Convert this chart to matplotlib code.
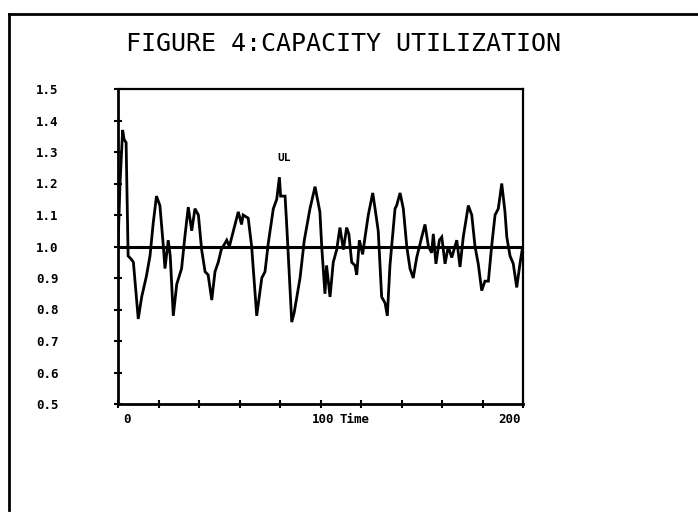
import numpy as np
import matplotlib
matplotlib.use("Agg")
import matplotlib.pyplot as plt
from matplotlib.lines import Line2D
from matplotlib import transforms

# capacity utilization (time, value)
TIME = [
    0, 1, 2.3, 3, 4, 5, 6.5, 7.6, 10, 11.7, 14, 15.8, 17.4, 19, 20.7,
    22.4, 23.2, 24.8, 25.8, 27.3, 29, 31.4, 33, 34.7, 36.4, 38, 39.7,
    41.3, 43, 44.5, 46.3, 47.9, 49.5, 51, 53.7, 55, 57, 59.4, 61, 61.8,
    64.3, 66, 68.5, 71, 72.6, 74.2, 76.7, 78.4, 79.7, 80.3, 82.5, 83.3,
    85.8, 87, 89.9, 92, 94.8, 97.3, 98.5, 99.7, 100.6, 102.2, 103, 104.7,
    106.3, 108, 109.6, 111.3, 112.9, 114, 115.4, 117, 117.9, 119.2, 120.8,
    122, 123.6, 125.8, 127.4, 128.5, 130.2, 131.9, 133, 134.3, 136.8,
    137.6, 139.3, 140.9, 142.6, 144.2, 145.8, 147.5, 150, 151.6, 153.3,
    154.9, 155.7, 157, 158.7, 159.9, 161.5, 163.1, 164.8, 167.3, 168.9,
    170.5, 173, 174.7, 176.3, 177.9, 179.6, 181.2, 182.9, 184.5, 186.2,
    187.8, 189.5, 191.1, 192, 193.6, 195.2, 196.9, 198.5, 199.6,
]
UTIL = [
    1.00, 1.20, 1.37, 1.34, 1.33, 0.97, 0.96, 0.95, 0.77, 0.84, 0.905, 0.97,
    1.075, 1.16, 1.13, 1.00, 0.93, 1.02, 0.97, 0.78, 0.88, 0.93, 1.03, 1.125,
    1.05, 1.12, 1.10, 0.99, 0.92, 0.91, 0.83, 0.92, 0.95, 0.99, 1.02, 1.00,
    1.05, 1.11, 1.07, 1.10, 1.09, 1.00, 0.78, 0.90, 0.92, 1.01, 1.12, 1.15,
    1.22, 1.16, 1.16, 1.07, 0.76, 0.79, 0.90, 1.02, 1.12, 1.19, 1.15, 1.11,
    1.00, 0.85, 0.94, 0.84, 0.95, 0.99, 1.06, 0.99, 1.06, 1.04, 0.95, 0.94,
    0.91, 1.02, 0.975, 1.03, 1.10, 1.17, 1.10, 1.05, 0.84, 0.82, 0.78, 0.94,
    1.12, 1.13, 1.17, 1.12, 1.00, 0.93, 0.90, 0.965, 1.03, 1.07, 1.00, 0.98,
    1.04, 0.945, 1.02, 1.03, 0.945, 1.00, 0.965, 1.02, 0.935, 1.03, 1.13,
    1.10, 1.00, 0.945, 0.86, 0.89, 0.89, 1.00, 1.10, 1.12, 1.20, 1.11, 1.03,
    0.97, 0.945, 0.87, 0.945, 0.99,
]
BASELINE = 1.0

Y_TICKS = [0.5, 0.6, 0.7, 0.8, 0.9, 1.0, 1.1, 1.2, 1.3, 1.4, 1.5]
X_TICKS = list(range(0, 201, 20))
X_LABELS = [(0, "0", 4.5), (100, "100", 101.5), (200, "200", 193.5)]

TITLE = "FIGURE 4:CAPACITY UTILIZATION"

fig = plt.figure(figsize=(6.98, 5.17), dpi=100)
ax = fig.add_axes([118 / 698, 1 - 404 / 517, 405 / 698, 315 / 517])

ax.plot(TIME, UTIL, color="black", lw=2.0, solid_joinstyle="miter")
ax.axhline(BASELINE, color="black", lw=2.2)
ax.text(82, 1.28, "UL", fontsize=8, fontweight="bold",
        family="DejaVu Sans Mono", ha="center", va="center")

ax.set_xlim(0, 200)
ax.set_ylim(0.5, 1.5)
ax.set_yticks(Y_TICKS)
ax.set_yticklabels([f"{v:.1f}" for v in Y_TICKS],
                   fontweight="bold", family="DejaVu Sans Mono", fontsize=9)
ax.tick_params(axis="y", direction="inout", length=6, width=1.5,
               pad=40)
ax.set_xticks(X_TICKS)
ax.set_xticklabels([])
ax.tick_params(axis="x", direction="inout", length=6, width=1.5)

blend = transforms.blended_transform_factory(ax.transData, ax.transAxes)
for _, lab, xpos in X_LABELS:
    ax.text(xpos, -0.05, lab, transform=blend, ha="center", va="center",
            fontsize=9, fontweight="bold", family="DejaVu Sans Mono")
ax.text(117, -0.05, "Time", transform=blend, ha="center", va="center",
        fontsize=9, fontweight="bold", family="DejaVu Sans Mono")

for side in ["left", "bottom"]:
    ax.spines[side].set_linewidth(2.0)
for side in ["top", "right"]:
    ax.spines[side].set_linewidth(1.6)

fig.text(343 / 698, 1 - 44 / 517, TITLE, ha="center", va="center",
         fontsize=18, family="DejaVu Sans Mono")

# scanned page frame
fig.add_artist(Line2D([9 / 698, 1.0], [1 - 14 / 517, 1 - 14 / 517],
                      color="black", lw=2.0, transform=fig.transFigure))
fig.add_artist(Line2D([9 / 698, 9 / 698], [1 - 14 / 517, 1 - 510 / 517],
                      color="black", lw=2.0, transform=fig.transFigure))

fig.savefig("out.png", dpi=100, facecolor="white")
